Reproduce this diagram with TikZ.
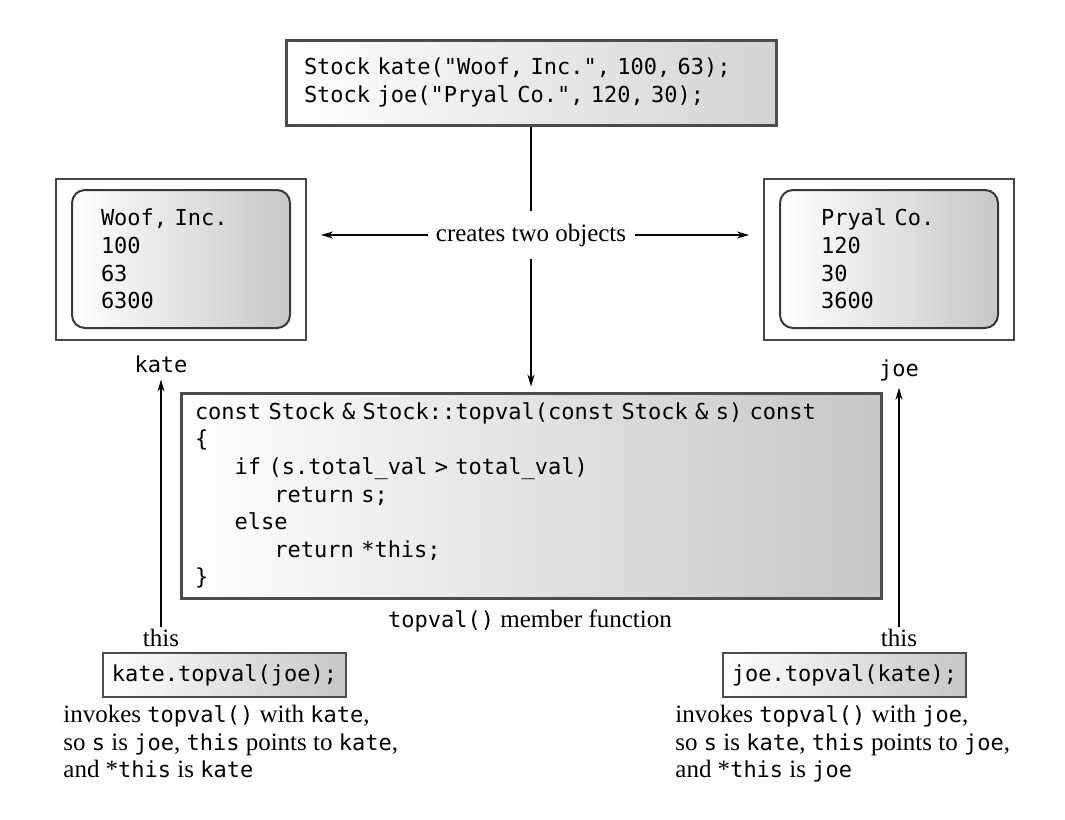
\documentclass[tikz,border=0pt]{standalone}
\usepackage{fontspec}
\setmainfont{Liberation Serif}
\setmonofont[Scale=0.88]{DejaVu Sans Mono}
\usetikzlibrary{arrows.meta}

\newcommand{\codefnt}{\fontsize{12.5}{13.8}\selectfont\ttfamily}
\newcommand{\textfnt}{\fontsize{12.5}{13.75}\selectfont\rmfamily}

\tikzset{
  shaded/.style={left color=white, right color=black!22},
  declbox/.style={draw=black!70, line width=1.5pt, left color=white, right color=black!17,
    font=\codefnt, align=left,
    minimum width=245pt, minimum height=42.5pt, text width=227pt, inner xsep=9pt},
  objframe/.style={draw=black!72, line width=1pt, fill=white,
    minimum width=125pt, minimum height=80.5pt, inner sep=0pt},
  objbox/.style={draw=black!78, line width=1pt, rounded corners=6.5pt, shaded,
    font=\codefnt, align=left, minimum height=69pt},
  codebox/.style={draw=black!70, line width=1.5pt, shaded, font=\codefnt, align=left,
    minimum width=350pt, minimum height=102.5pt, text width=336pt, inner xsep=7pt},
  callbox/.style={draw=black!70, line width=1.2pt, shaded, font=\codefnt,
    minimum width=121.5pt, minimum height=22pt},
  lbl/.style={font=\codefnt},
  txt/.style={font=\textfnt},
  desc/.style={font=\textfnt, anchor=north west, align=left, inner sep=0pt},
  conn/.style={line width=0.6pt, -{Stealth[length=6pt,width=3.5pt]}}
}

\begin{document}
\begin{tikzpicture}[x=0.5pt, y=-0.5pt]
\useasboundingbox (0,0) rectangle (1065,819);

% the two declarations
\node[declbox] (decl) at (531,82.5) {Stock kate("Woof, Inc.", 100, 63);\\Stock joe("Pryal Co.", 120, 30);};

% the objects
\node[objframe] (kateobj) at (181,259.5) {};
\node[objbox, text width=80pt, inner xsep=14.5pt] (kateval) at (181,259) {Woof, Inc.\\100\\63\\6300};
\node[objframe] (joeobj) at (889,259.5) {};
\node[objbox, text width=68pt, inner xsep=20.5pt] (joeval) at (889,259) {Pryal Co.\\120\\30\\3600};

\node[lbl] (katelbl) at (161,364) {kate};
\node[lbl] (joelbl) at (899,370) {joe};

\node[txt, inner xsep=4pt, inner ysep=6pt] (creates) at (531,235) {creates two objects};

% member function
\node[codebox] (func) at (531,495.5) {const Stock \& Stock::topval(const Stock \& s) const\\
\{\\
\hphantom{000}if (s.total\_val > total\_val)\\
\hphantom{000000}return s;\\
\hphantom{000}else\\
\hphantom{000000}return *this;\\
\}};
\node[txt] (funclbl) at (530,621) {\texttt{topval()} member function};

\node[txt, inner ysep=1pt] (thisL) at (161,638) {this};
\node[txt, inner ysep=1pt] (thisR) at (899,638) {this};

% the calls
\node[callbox] (callL) at (224.5,675) {kate.topval(joe);};
\node[callbox] (callR) at (844.5,675) {joe.topval(kate);};

\node[desc] (descL) at (63,705) {invokes \texttt{topval()} with \texttt{kate},\\
so \texttt{s} is \texttt{joe}, \texttt{this} points to \texttt{kate},\\
and *\texttt{this} is \texttt{kate}};
\node[desc] (descR) at (675,705) {invokes \texttt{topval()} with \texttt{joe},\\
so \texttt{s} is \texttt{kate}, \texttt{this} points to \texttt{joe},\\
and *\texttt{this} is \texttt{joe}};

% connectors
\draw[line width=0.6pt] (decl.south) -- (creates.north);
\draw[conn, shorten >=2.5pt] (creates.south) -- (func.north);
\draw[conn, shorten >=7pt] (creates.west) -- (creates.west -| kateobj.east);
\draw[conn, shorten >=7pt] (creates.east) -- (creates.east -| joeobj.west);
\draw[conn] (thisL.north) -- (katelbl.south);
\draw[conn] (thisR.north) -- (joelbl.south);

\end{tikzpicture}
\end{document}
